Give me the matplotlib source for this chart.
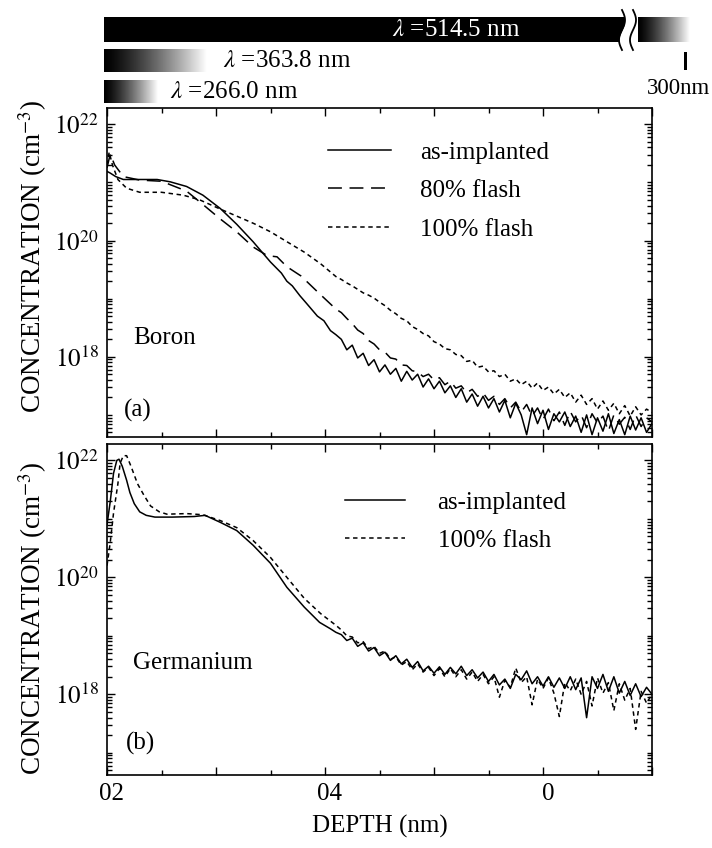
import numpy as np
import matplotlib
matplotlib.use("Agg")
import matplotlib.pyplot as plt
import matplotlib.transforms as mtransforms
from matplotlib.ticker import FixedLocator, FixedFormatter, NullFormatter
from matplotlib.lines import Line2D

plt.rcParams['font.family'] = ['Liberation Serif', 'DejaVu Serif']
plt.rcParams['mathtext.fontset'] = 'stix'
plt.rcParams['lines.scale_dashes'] = False

# depth values (nm), concentrations stored as log10(cm^-3)
tail_x = [21.5, 22.0, 22.5, 23.0, 23.5, 24.0, 24.5, 25.0, 25.5, 26.0, 26.5, 27.0,
          27.5, 28.0, 28.5, 29.0, 29.5, 30.0, 30.5, 31.0, 31.5, 32.0, 32.5, 33.0,
          33.5, 34.0, 34.5, 35.0, 35.5, 36.0, 36.5, 37.0, 37.5, 38.0, 38.5, 39.0,
          39.5, 40.0, 40.5, 41.0, 41.5, 42.0, 42.5, 43.0, 43.5, 44.0, 44.5, 45.0,
          45.5, 46.0, 46.5, 47.0, 47.5, 48.0, 48.5, 49.0, 49.5, 50.0]

# --- (a) boron ---
b_impl_x = [0.0, 0.3, 0.8, 1.5, 3.0, 4.6, 5.8, 7.3, 8.8, 10.4, 11.9, 13.4, 15.0,
            16.0, 16.5, 17.0, 17.7, 18.3, 19.3, 19.9, 20.5, 21.0]
b_impl_y = [21.19, 21.16, 21.10, 21.05, 21.05, 21.05, 21.01, 20.93, 20.78, 20.55,
            20.28, 19.98, 19.63, 19.44, 19.30, 19.22, 19.05, 18.92, 18.70, 18.62,
            18.45, 18.38]
b_impl_tail = [18.30, 18.12, 18.20, 17.98, 18.06, 17.85, 17.95, 17.74, 17.86, 17.70,
               17.80, 17.58, 17.75, 17.60, 17.70, 17.48, 17.62, 17.45, 17.58, 17.38,
               17.50, 17.30, 17.45, 17.22, 17.36, 17.15, 17.32, 17.12, 17.28, 17.05,
               17.25, 16.95, 17.20, 17.00, 16.66, 17.12, 16.85, 17.08, 16.75, 17.02,
               16.88, 17.05, 16.80, 16.98, 16.70, 17.00, 16.66, 16.95, 16.72, 17.02,
               16.68, 16.92, 16.66, 16.98, 16.74, 16.95, 16.70, 16.85]

b_80_x = [0.0, 0.3, 0.7, 1.5, 3.0, 5.0, 7.3, 8.8, 10.4, 11.9, 13.4, 14.7, 15.6,
          16.5, 17.8, 19.3, 21.0]
b_80_y = [21.25, 21.49, 21.30, 21.10, 21.04, 21.02, 20.85, 20.62, 20.37, 20.15,
          19.89, 19.74, 19.72, 19.55, 19.39, 19.12, 18.82]
b_80_tail = [18.76, 18.66, 18.57, 18.46, 18.40, 18.28, 18.22, 18.12, 18.08, 17.98,
             17.96, 17.86, 17.85, 17.76, 17.74, 17.66, 17.70, 17.60, 17.64, 17.52,
             17.58, 17.46, 17.50, 17.38, 17.44, 17.32, 17.38, 17.25, 17.32, 17.18,
             17.28, 17.12, 17.22, 17.05, 17.18, 16.98, 17.12, 16.92, 17.10, 16.90,
             17.05, 16.82, 17.06, 16.88, 17.00, 16.78, 17.02, 16.86, 16.98, 16.72,
             17.00, 16.84, 16.96, 16.75, 17.00, 16.80, 16.95, 16.88]

b_100_x = [0.0, 0.2, 0.5, 1.0, 1.8, 3.0, 5.0, 7.0, 8.5, 10.4, 11.9, 13.5, 15.0,
           16.5, 18.1, 19.6, 21.0]
b_100_y = [21.30, 21.52, 21.30, 21.05, 20.90, 20.83, 20.83, 20.78, 20.70, 20.54,
           20.42, 20.29, 20.15, 19.98, 19.80, 19.60, 19.38]
b_100_tail = [19.33, 19.27, 19.22, 19.16, 19.10, 19.06, 19.01, 18.94, 18.88, 18.80,
              18.74, 18.66, 18.62, 18.52, 18.47, 18.40, 18.36, 18.26, 18.22, 18.14,
              18.12, 18.04, 18.02, 17.92, 17.94, 17.82, 17.84, 17.74, 17.76, 17.66,
              17.70, 17.58, 17.62, 17.52, 17.58, 17.46, 17.55, 17.42, 17.48, 17.36,
              17.44, 17.30, 17.38, 17.22, 17.34, 17.18, 17.28, 17.10, 17.24, 17.08,
              17.20, 17.02, 17.16, 16.98, 17.14, 17.00, 17.10, 17.04]

# --- (b) germanium ---
g_impl_x = [0.0, 0.3, 0.6, 0.9, 1.1, 1.4, 1.8, 2.1, 2.5, 3.0, 3.6, 4.4, 6.0, 8.0,
            9.0, 10.4, 11.9, 13.4, 15.0, 16.5, 18.1, 19.5, 20.5, 21.0]
g_impl_y = [20.90, 21.30, 21.78, 22.00, 22.02, 21.90, 21.66, 21.45, 21.26, 21.12,
            21.06, 21.03, 21.03, 21.04, 21.06, 20.94, 20.80, 20.55, 20.24, 19.83,
            19.49, 19.23, 19.12, 19.06]
g_impl_tail = [19.02, 18.92, 18.96, 18.82, 18.88, 18.74, 18.80, 18.66, 18.72, 18.58,
               18.66, 18.52, 18.60, 18.46, 18.56, 18.40, 18.48, 18.36, 18.47, 18.34,
               18.46, 18.35, 18.48, 18.32, 18.42, 18.28, 18.38, 18.22, 18.34, 18.16,
               18.26, 18.10, 18.34, 18.25, 18.40, 18.18, 18.30, 18.14, 18.30, 18.12,
               18.28, 18.10, 18.30, 18.08, 18.28, 17.60, 18.30, 18.10, 18.34, 18.05,
               18.30, 18.02, 18.22, 17.98, 18.18, 17.96, 18.12, 18.00]

g_100_x = [0.0, 0.3, 0.6, 1.0, 1.2, 1.5, 1.8, 2.2, 2.8, 3.4, 4.0, 4.8, 5.5, 7.3,
           8.8, 10.4, 11.9, 13.4, 15.0, 16.5, 18.1, 19.6, 21.0]
g_100_y = [20.20, 20.60, 21.10, 21.60, 21.95, 22.08, 22.08, 21.90, 21.60, 21.40,
           21.22, 21.12, 21.08, 21.09, 21.07, 20.97, 20.85, 20.63, 20.34, 20.00,
           19.64, 19.38, 19.18]
g_100_tail = [19.10, 19.00, 18.98, 18.88, 18.90, 18.78, 18.82, 18.70, 18.74, 18.60,
              18.64, 18.50, 18.56, 18.42, 18.52, 18.38, 18.46, 18.32, 18.44, 18.30,
              18.44, 18.30, 18.42, 18.26, 18.38, 18.22, 18.34, 18.18, 18.30, 17.95,
              18.24, 18.12, 18.45, 18.20, 18.30, 17.82, 18.26, 18.10, 18.28, 18.02,
              17.62, 18.20, 18.06, 18.26, 18.00, 18.22, 17.80, 18.28, 18.02, 18.20,
              17.72, 18.18, 17.90, 18.10, 17.40, 18.05, 17.85, 18.00]

x_major = [0, 10, 20, 30, 40, 50]
x_major_text = ['02', '', '04', '', '0', '']
y_major = [1e18, 1e20, 1e22]
y_major_text = [r'$10^{18}$', r'$10^{20}$', r'$10^{22}$']

SOLID = '-'
DASH80 = (0, (10, 5.5))
DASH100 = (0, (3.2, 2.6))
FS = 18

W, H = 712, 848
fig = plt.figure(figsize=(W / 100, H / 100), dpi=100)


def box(l, t, r, b):
    return [l / W, 1 - b / H, (r - l) / W, (b - t) / H]


def setup(ax):
    ax.set_yscale('log')
    ax.set_xlim(0, 50)
    ax.set_ylim(10 ** 16.62, 10 ** 22.28)
    ax.xaxis.set_major_locator(FixedLocator(x_major))
    ax.xaxis.set_minor_locator(FixedLocator([5, 15, 25, 35, 45]))
    ax.yaxis.set_major_locator(FixedLocator(y_major))
    ax.yaxis.set_major_formatter(FixedFormatter(y_major_text))
    minors = [k * 10.0 ** n for n in range(16, 23) for k in range(2, 10)]
    minors += [1e17, 1e19, 1e21]
    ax.yaxis.set_minor_locator(FixedLocator(minors))
    ax.yaxis.set_minor_formatter(NullFormatter())
    ax.tick_params(which='both', direction='in', top=True, right=True, width=1.0,
                   labelsize=FS, pad=6)
    ax.tick_params(which='major', length=6)
    ax.tick_params(which='minor', length=3.5)
    for s in ax.spines.values():
        s.set_linewidth(1.2)


ax_a = fig.add_axes(box(107, 108, 652, 437))
ax_b = fig.add_axes(box(107, 444, 652, 775))
setup(ax_a)
setup(ax_b)

lw = 1.1
ax_a.plot(b_impl_x + tail_x, 10 ** np.array(b_impl_y + b_impl_tail), color='black', lw=lw, ls=SOLID)
ax_a.plot(b_80_x + tail_x, 10 ** np.array(b_80_y + b_80_tail), color='black', lw=lw, ls=DASH80)
ax_a.plot(b_100_x + tail_x, 10 ** np.array(b_100_y + b_100_tail), color='black', lw=lw, ls=DASH100)

ax_b.plot(g_impl_x + tail_x, 10 ** np.array(g_impl_y + g_impl_tail), color='black', lw=lw, ls=SOLID)
ax_b.plot(g_100_x + tail_x, 10 ** np.array(g_100_y + g_100_tail), color='black', lw=lw, ls=DASH100)

ax_a.set_xticklabels([])
ax_b.xaxis.set_major_formatter(FixedFormatter(x_major_text))
shift = mtransforms.ScaledTranslation(5 / 100, 0, fig.dpi_scale_trans)
for lab in ax_b.get_xticklabels():
    lab.set_transform(lab.get_transform() + shift)

h_a = [Line2D([], [], color='black', lw=lw, ls=SOLID),
       Line2D([], [], color='black', lw=lw, ls=DASH80),
       Line2D([], [], color='black', lw=lw, ls=DASH100)]
ax_a.legend(h_a, ['as-implanted', '80% flash', '100% flash'], loc='upper left',
            bbox_to_anchor=((328 - 107) / 545, 1 - (141 - 108) / 329), frameon=False,
            fontsize=FS, handlelength=2.5, handletextpad=1.2, labelspacing=0.64,
            borderpad=0, borderaxespad=0)
h_b = [Line2D([], [], color='black', lw=lw, ls=SOLID),
       Line2D([], [], color='black', lw=lw, ls=DASH100)]
ax_b.legend(h_b, ['as-implanted', '100% flash'], loc='upper left',
            bbox_to_anchor=((345 - 107) / 545, 1 - (491 - 444) / 331), frameon=False,
            fontsize=FS, handlelength=2.4, handletextpad=1.3, labelspacing=0.64,
            borderpad=0, borderaxespad=0)

# panel annotations (figure pixel coordinates)
fig.text(133 / W, 1 - 338 / H, 'Boron', fontsize=FS, va='center')
fig.text(124 / W, 1 - 410 / H, '(a)', fontsize=FS, va='center')
fig.text(133 / W, 1 - 663 / H, 'Germanium', fontsize=FS, va='center')
fig.text(126 / W, 1 - 743 / H, '(b)', fontsize=FS, va='center')

ylab = r'CONCENTRATION (cm$^{-3}$)'
fig.text(33 / W, 1 - 256 / H, ylab, fontsize=19.5, rotation=90, ha='center', va='center')
fig.text(33 / W, 1 - 618 / H, ylab, fontsize=19.5, rotation=90, ha='center', va='center')
fig.text(380 / W, 1 - 826 / H, 'DEPTH (nm)', fontsize=FS, ha='center', va='center')

# wavelength bars on top
top = fig.add_axes([0, 0, 1, 1], zorder=-1)
top.set_axis_off()
grad = np.linspace(0, 1, 256).reshape(1, -1) ** 1.3
top.add_patch(plt.Rectangle((104, 17), 521, 25, color='black', lw=0))
top.imshow(grad, cmap='gray', aspect='auto', extent=(638, 690, 42, 17), vmin=0, vmax=1)
top.imshow(grad, cmap='gray', aspect='auto', extent=(104, 207, 72, 49), vmin=0, vmax=1)
top.imshow(grad, cmap='gray', aspect='auto', extent=(104, 158, 103, 80), vmin=0, vmax=1)
tt = np.linspace(0, 1, 50)
wave = 3 * np.sin(2 * np.pi * tt)
top.fill_betweenx(10 + 40 * tt, 622 + wave, 633 + wave, color='white', lw=0)
for x0 in (622, 633):
    top.plot(x0 + wave, 10 + 40 * tt, color='black', lw=1.3)
top.add_patch(plt.Rectangle((684, 52), 3, 18, color='black', lw=0))
top.text(456, 30, r'$\lambda$ =514.5 nm', color='white', fontsize=FS, ha='center', va='center')
top.text(223, 61, r'$\lambda$ =363.8 nm', color='black', fontsize=FS, ha='left', va='center')
top.text(170, 92, r'$\lambda$ =266.0 nm', color='black', fontsize=FS, ha='left', va='center')
top.text(678, 88, '300nm', color='black', fontsize=16.5, ha='center', va='center')
top.set_xlim(0, W)
top.set_ylim(H, 0)

fig.savefig('out.png', dpi=100)
